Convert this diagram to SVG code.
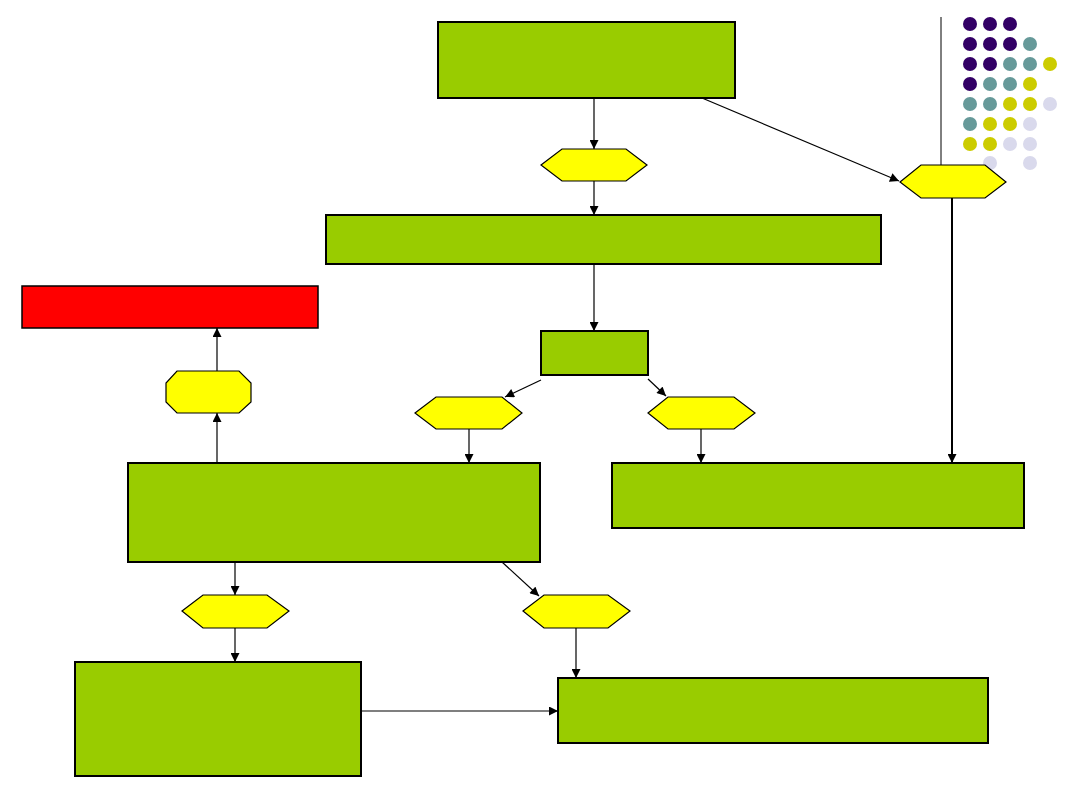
<svg xmlns="http://www.w3.org/2000/svg" width="1080" height="810" viewBox="0 0 1080 810">
<style>
.box{fill:#99CC00;stroke:#000;stroke-width:2}
.red{fill:#FF0000;stroke:#000;stroke-width:1.5}
.hex{fill:#FFFF00;stroke:#000;stroke-width:1.2}
.c{stroke:#000;stroke-width:1.2;fill:none;marker-end:url(#ah)}
.p{fill:#330066}.t{fill:#669999}.y{fill:#CCCC00}.l{fill:#D9D9EC}
</style>
<defs>
<marker id="ah" viewBox="0 0 10 10" refX="10" refY="5" markerWidth="10" markerHeight="9" markerUnits="userSpaceOnUse" orient="auto">
<path d="M0,0 L10,5 L0,10 z" fill="#000"/>
</marker>
</defs>
<rect width="1080" height="810" fill="#fff"/>
<g id="decor">
<line x1="941" y1="17" x2="941" y2="165" stroke="#000" stroke-width="1"/>
<circle class="p" cx="970" cy="24" r="7"/><circle class="p" cx="990" cy="24" r="7"/><circle class="p" cx="1010" cy="24" r="7"/>
<circle class="p" cx="970" cy="44" r="7"/><circle class="p" cx="990" cy="44" r="7"/><circle class="p" cx="1010" cy="44" r="7"/><circle class="t" cx="1030" cy="44" r="7"/>
<circle class="p" cx="970" cy="64" r="7"/><circle class="p" cx="990" cy="64" r="7"/><circle class="t" cx="1010" cy="64" r="7"/><circle class="t" cx="1030" cy="64" r="7"/><circle class="y" cx="1050" cy="64" r="7"/>
<circle class="p" cx="970" cy="84" r="7"/><circle class="t" cx="990" cy="84" r="7"/><circle class="t" cx="1010" cy="84" r="7"/><circle class="y" cx="1030" cy="84" r="7"/>
<circle class="t" cx="970" cy="104" r="7"/><circle class="t" cx="990" cy="104" r="7"/><circle class="y" cx="1010" cy="104" r="7"/><circle class="y" cx="1030" cy="104" r="7"/><circle class="l" cx="1050" cy="104" r="7"/>
<circle class="t" cx="970" cy="124" r="7"/><circle class="y" cx="990" cy="124" r="7"/><circle class="y" cx="1010" cy="124" r="7"/><circle class="l" cx="1030" cy="124" r="7"/>
<circle class="y" cx="970" cy="144" r="7"/><circle class="y" cx="990" cy="144" r="7"/><circle class="l" cx="1010" cy="144" r="7"/><circle class="l" cx="1030" cy="144" r="7"/>
<circle class="l" cx="990" cy="163" r="7"/><circle class="l" cx="1030" cy="163" r="7"/>
</g>
<g id="connectors">
<line class="c" x1="594" y1="98" x2="594" y2="149"/>
<line class="c" x1="594" y1="181" x2="594" y2="215"/>
<line class="c" x1="702" y1="98" x2="899" y2="181"/>
<line class="c" x1="952" y1="198" x2="952" y2="463" style="stroke-width:2"/>
<line class="c" x1="594" y1="264" x2="594" y2="331"/>
<line class="c" x1="541" y1="380" x2="505" y2="397"/>
<line class="c" x1="648" y1="379" x2="666" y2="396"/>
<line class="c" x1="469" y1="429" x2="469" y2="463"/>
<line class="c" x1="701" y1="429" x2="701" y2="463"/>
<line class="c" x1="217" y1="463" x2="217" y2="413"/>
<line class="c" x1="217" y1="371" x2="217" y2="328"/>
<line class="c" x1="235" y1="562" x2="235" y2="595"/>
<line class="c" x1="502" y1="562" x2="539" y2="596"/>
<line class="c" x1="235" y1="628" x2="235" y2="662"/>
<line class="c" x1="576" y1="628" x2="576" y2="678"/>
<line class="c" x1="361" y1="711" x2="558" y2="711"/>
</g>
<g id="n1"><rect class="box" x="438" y="22" width="297" height="76"/></g>
<g id="n2"><rect class="box" x="326" y="215" width="555" height="49"/></g>
<g id="n3"><rect class="red" x="22" y="286" width="296" height="42"/></g>
<g id="n4"><rect class="box" x="541" y="331" width="107" height="44"/></g>
<g id="n5"><rect class="box" x="128" y="463" width="412" height="99"/></g>
<g id="n6"><rect class="box" x="612" y="463" width="412" height="65"/></g>
<g id="n7"><rect class="box" x="75" y="662" width="286" height="114"/></g>
<g id="n8"><rect class="box" x="558" y="678" width="430" height="65"/></g>
<g id="h1"><polygon class="hex" points="541,165 562,149 626,149 647,165 626,181 562,181"/></g>
<g id="h2"><polygon class="hex" points="900,182 921,165 985,165 1006,182 985,198 921,198"/></g>
<g id="h3"><polygon class="hex" points="415,413 436,397 502,397 522,413 502,429 436,429"/></g>
<g id="h4"><polygon class="hex" points="648,413 668,397 734,397 755,413 734,429 668,429"/></g>
<g id="h5"><polygon class="hex" points="182,611 203,595 267,595 289,611 267,628 203,628"/></g>
<g id="h6"><polygon class="hex" points="523,611 544,595 608,595 630,611 608,628 544,628"/></g>
<g id="oct"><polygon class="hex" points="177,371 239,371 251,383 251,402 239,413 177,413 166,402 166,383"/></g>
</svg>
